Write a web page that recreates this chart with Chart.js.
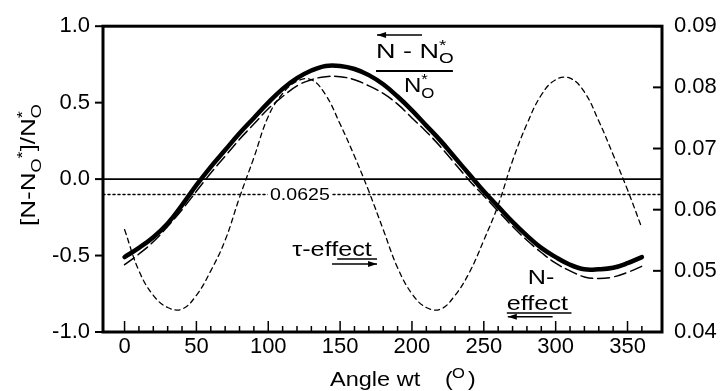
<!DOCTYPE html>
<html>
<head>
<meta charset="utf-8">
<script src="https://cdn.jsdelivr.net/npm/chart.js@4.4.1/dist/chart.umd.min.js"></script>
<style>
  html, body { margin: 0; padding: 0; background: #fff; }
  #wrap { width: 721px; height: 391px; }
</style>
</head>
<body>
<div id="wrap"><canvas id="chart" width="721" height="391"></canvas></div>
<script>
// angle wt in degrees, one sample every 10 degrees
const angles = [0, 10, 20, 30, 40, 50, 60, 70, 80, 90, 100, 110, 120, 130, 140, 150, 160, 170, 180,
    190, 200, 210, 220, 230, 240, 250, 260, 270, 280, 290, 300, 310, 320, 330, 340, 350, 360];

// (N - N0*) / N0*  -- total effect
const relChange = [-0.51, -0.45, -0.38, -0.29, -0.17, -0.04, 0.08, 0.19, 0.30, 0.40, 0.50, 0.59, 0.66, 0.71, 0.74,
    0.74, 0.72, 0.68, 0.62, 0.54, 0.45, 0.35, 0.25, 0.14, 0.03, -0.08, -0.18, -0.28, -0.37, -0.45,
    -0.51, -0.56, -0.59, -0.59, -0.58, -0.55, -0.51];

// N-effect alone
const nEffect = [-0.56, -0.49, -0.41, -0.31, -0.20, -0.08, 0.04, 0.15, 0.26, 0.36, 0.46, 0.54, 0.61, 0.65, 0.67,
    0.67, 0.65, 0.61, 0.56, 0.49, 0.40, 0.31, 0.21, 0.10, -0.01, -0.11, -0.21, -0.31, -0.40, -0.48,
    -0.55, -0.60, -0.64, -0.65, -0.64, -0.61, -0.57];

// tau-effect alone
const tauEffect = [-0.33, -0.60, -0.76, -0.84, -0.85, -0.76, -0.60, -0.40, -0.12, 0.14, 0.41, 0.56, 0.64, 0.65,
    0.55, 0.36, 0.15, -0.08, -0.33, -0.58, -0.75, -0.84, -0.85, -0.76, -0.61, -0.40, -0.17, 0.12,
    0.36, 0.55, 0.65, 0.66, 0.57, 0.38, 0.16, -0.07, -0.32];

const zeroLevel = 0;
const rateLevel = 0.0625;   // read on the right axis

const xMin = -15, xMax = 374;
const xTicks = [0, 50, 100, 150, 200, 250, 300, 350];
const xMinorStep = 10;
const leftTicks = [-1, -0.5, 0, 0.5, 1];
const rightTicks = [0.04, 0.05, 0.06, 0.07, 0.08, 0.09];

const TXT = '"Liberation Sans", Arial, sans-serif';
const TICK_FONT = { family: '"Liberation Sans", Arial, sans-serif', size: 22 };

const pts = (ys) => angles.map((a, i) => ({ x: a, y: ys[i] }));

// rich text: parts = [[text, kind]], kind is n / sub / sup / over (sup stacked on previous part)
function richWidth(ctx, parts, size) {
    let w = 0, last = 0;
    parts.forEach(([t, k]) => {
        ctx.font = (k === 'n' ? size : Math.round(size * 0.72)) + 'px ' + TXT;
        const tw = ctx.measureText(t).width;
        if (k === 'over') { w = w - last + Math.max(last, tw); return; }
        w += tw; last = tw;
    });
    return w;
}

function drawRich(ctx, parts, x, y, size, stretch) {
    ctx.save();
    ctx.translate(x, y);
    ctx.scale(stretch, 1);
    ctx.fillStyle = '#000';
    ctx.textBaseline = 'alphabetic';
    ctx.textAlign = 'left';
    let cx = 0, prevX = 0;
    parts.forEach(([t, k]) => {
        const fs = k === 'n' ? size : Math.round(size * 0.72);
        ctx.font = fs + 'px ' + TXT;
        let dy = 0;
        if (k === 'sub') dy = size * 0.28;
        if (k === 'sup' || k === 'over') dy = -size * 0.38;
        if (k === 'over') {
            ctx.fillText(t, prevX, dy);
            return;
        }
        ctx.fillText(t, cx, dy);
        prevX = cx;
        cx += ctx.measureText(t).width;
    });
    ctx.restore();
}

function arrow(ctx, x1, x2, y, headLeft) {
    ctx.save();
    ctx.strokeStyle = '#000';
    ctx.fillStyle = '#000';
    ctx.lineWidth = 1.5;
    ctx.beginPath();
    ctx.moveTo(x1, y);
    ctx.lineTo(x2, y);
    ctx.stroke();
    const hx = headLeft ? x1 : x2;
    const d = headLeft ? 1 : -1;
    ctx.beginPath();
    ctx.moveTo(hx, y);
    ctx.lineTo(hx + d * 9, y - 3);
    ctx.lineTo(hx + d * 9, y + 3);
    ctx.closePath();
    ctx.fill();
    ctx.restore();
}

const decorations = {
    id: 'decorations',
    afterDatasetsDraw(chart) {
        const { ctx, chartArea: a, scales } = chart;
        const sx = scales.x, sy = scales.y, sy2 = scales.y2;
        ctx.save();

        // frame
        ctx.strokeStyle = '#000';
        ctx.lineWidth = 3;
        ctx.strokeRect(a.left, a.top, a.right - a.left, a.bottom - a.top);

        // x ticks point into the plot, minor every 10 degrees
        ctx.lineWidth = 1.5;
        for (let v = 0; v <= 360; v += xMinorStep) {
            const px = sx.getPixelForValue(v);
            const len = v % 50 === 0 ? 11 : 6;
            ctx.beginPath();
            ctx.moveTo(px, a.bottom);
            ctx.lineTo(px, a.bottom - len);
            ctx.stroke();
        }
        // left ticks point outward, right ticks inward
        ctx.lineWidth = 2;
        leftTicks.forEach(v => {
            const py = sy.getPixelForValue(v);
            ctx.beginPath();
            ctx.moveTo(a.left, py);
            ctx.lineTo(a.left - 8, py);
            ctx.stroke();
        });
        rightTicks.forEach(v => {
            const py = sy2.getPixelForValue(v);
            ctx.beginPath();
            ctx.moveTo(a.right, py);
            ctx.lineTo(a.right - 9, py);
            ctx.stroke();
        });

        // value of the dotted line, on a white patch
        const ry = sy2.getPixelForValue(rateLevel);
        const rx = sx.getPixelForValue(122);
        ctx.font = '17px ' + TXT;
        ctx.save();
        ctx.translate(rx, ry);
        ctx.scale(1.15, 1);
        const rw = ctx.measureText('0.0625').width;
        ctx.fillStyle = '#fff';
        ctx.fillRect(-rw / 2 - 2, -8, rw + 4, 16);
        ctx.fillStyle = '#000';
        ctx.textAlign = 'center';
        ctx.textBaseline = 'middle';
        ctx.fillText('0.0625', 0, 1);
        ctx.restore();

        // (N - N0*) / N0* label with the time arrow over N
        const fx = sx.getPixelForValue(175);
        drawRich(ctx, [['N - N', 'n'], ['O', 'sub'], ['*', 'over']], fx, sy.getPixelForValue(0.795), 20, 1.35);
        ctx.lineWidth = 2;
        ctx.beginPath();
        ctx.moveTo(fx, sy.getPixelForValue(0.707));
        ctx.lineTo(sx.getPixelForValue(228.5), sy.getPixelForValue(0.707));
        ctx.stroke();
        drawRich(ctx, [['N', 'n'], ['O', 'sub'], ['*', 'over']], sx.getPixelForValue(194.4), sy.getPixelForValue(0.57), 20, 1.2);
        arrow(ctx, sx.getPixelForValue(175.7), sx.getPixelForValue(207), sy.getPixelForValue(0.942), true);

        // tau-effect label
        const tx = sx.getPixelForValue(116.7), ty = sy.getPixelForValue(-0.506);
        drawRich(ctx, [['\u03c4-effect', 'n']], tx, ty, 21, 1.2);
        ctx.lineWidth = 1.5;
        ctx.beginPath();
        ctx.moveTo(sx.getPixelForValue(148), ty + 2.5);
        ctx.lineTo(sx.getPixelForValue(175.7), ty + 2.5);
        ctx.stroke();
        arrow(ctx, sx.getPixelForValue(144.4), sx.getPixelForValue(175.7), sy.getPixelForValue(-0.555), false);

        // N-effect label
        drawRich(ctx, [['N-', 'n']], sx.getPixelForValue(280.6), sy.getPixelForValue(-0.686), 21, 1.2);
        const ex = sx.getPixelForValue(266), ey = sy.getPixelForValue(-0.859);
        drawRich(ctx, [['effect', 'n']], ex, ey, 21, 1.2);
        ctx.lineWidth = 1.5;
        ctx.beginPath();
        ctx.moveTo(ex, ey + 2.5);
        ctx.lineTo(sx.getPixelForValue(311), ey + 2.5);
        ctx.stroke();
        arrow(ctx, sx.getPixelForValue(266.7), sx.getPixelForValue(297.9), sy.getPixelForValue(-0.9), true);

        // axis titles
        const yTitle = [['[N-N', 'n'], ['O', 'sub'], ['*', 'sup'], [']/N', 'n'], ['O', 'sub'], ['*', 'over']];
        const ytw = richWidth(ctx, yTitle, 20) * 1.3;
        ctx.save();
        ctx.translate(35, 165);
        ctx.rotate(-Math.PI / 2);
        drawRich(ctx, yTitle, -ytw / 2, 0, 20, 1.3);
        ctx.restore();

        drawRich(ctx, [['Angle wt', 'n']], 330, 386, 21, 1.12);
        drawRich(ctx, [['(', 'n']], 445, 386, 21, 1.1);
        drawRich(ctx, [['O', 'sup']], 452, 386, 21, 1.1);
        drawRich(ctx, [[')', 'n']], 468, 386, 21, 1.1);

        ctx.restore();
    }
};

new Chart(document.getElementById('chart'), {
    type: 'line',
    data: {
        datasets: [
            { label: 'N - N0*', data: pts(relChange), borderColor: '#000', borderWidth: 4.5, order: 0 },
            { label: 'N-effect', data: pts(nEffect), borderColor: '#000', borderWidth: 1.5, borderDash: [12, 5], order: 1 },
            { label: 'tau-effect', data: pts(tauEffect), borderColor: '#000', borderWidth: 1.3, borderDash: [5, 4], order: 2 },
            { label: 'zero', data: [{ x: xMin, y: zeroLevel }, { x: xMax, y: zeroLevel }], borderColor: '#000', borderWidth: 1.8, tension: 0, order: 3 },
            { label: 'rate', data: [{ x: xMin, y: rateLevel }, { x: xMax, y: rateLevel }], yAxisID: 'y2', borderColor: '#000', borderWidth: 1.5, borderDash: [2, 3], tension: 0, order: 4 }
        ]
    },
    options: {
        responsive: false,
        animation: false,
        devicePixelRatio: 1,
        layout: { padding: { top: 20, left: 0, right: 0, bottom: 0 } },
        elements: { point: { radius: 0 }, line: { tension: 0.4, fill: false, borderCapStyle: 'round' } },
        plugins: { legend: { display: false }, tooltip: { enabled: false } },
        scales: {
            x: {
                type: 'linear', min: xMin, max: xMax,
                grid: { display: false, drawTicks: false },
                border: { display: false },
                afterBuildTicks: s => { s.ticks = xTicks.map(v => ({ value: v })); },
                afterFit: s => { s.height = 59; },
                ticks: { color: '#000', font: TICK_FONT, padding: 2, maxRotation: 0 }
            },
            y: {
                position: 'left', min: -1, max: 1,
                grid: { display: false, drawTicks: false },
                border: { display: false },
                afterBuildTicks: s => { s.ticks = leftTicks.map(v => ({ value: v })); },
                afterFit: s => { s.width = 103; },
                ticks: { color: '#000', font: TICK_FONT, padding: 13, callback: v => v.toFixed(1) }
            },
            y2: {
                position: 'right', min: 0.04, max: 0.09,
                grid: { display: false, drawTicks: false },
                border: { display: false },
                afterBuildTicks: s => { s.ticks = rightTicks.map(v => ({ value: v })); },
                afterFit: s => { s.width = 59; },
                ticks: { color: '#000', font: TICK_FONT, padding: 12, callback: v => v.toFixed(2) }
            }
        }
    },
    plugins: [decorations]
});
</script>
</body>
</html>
